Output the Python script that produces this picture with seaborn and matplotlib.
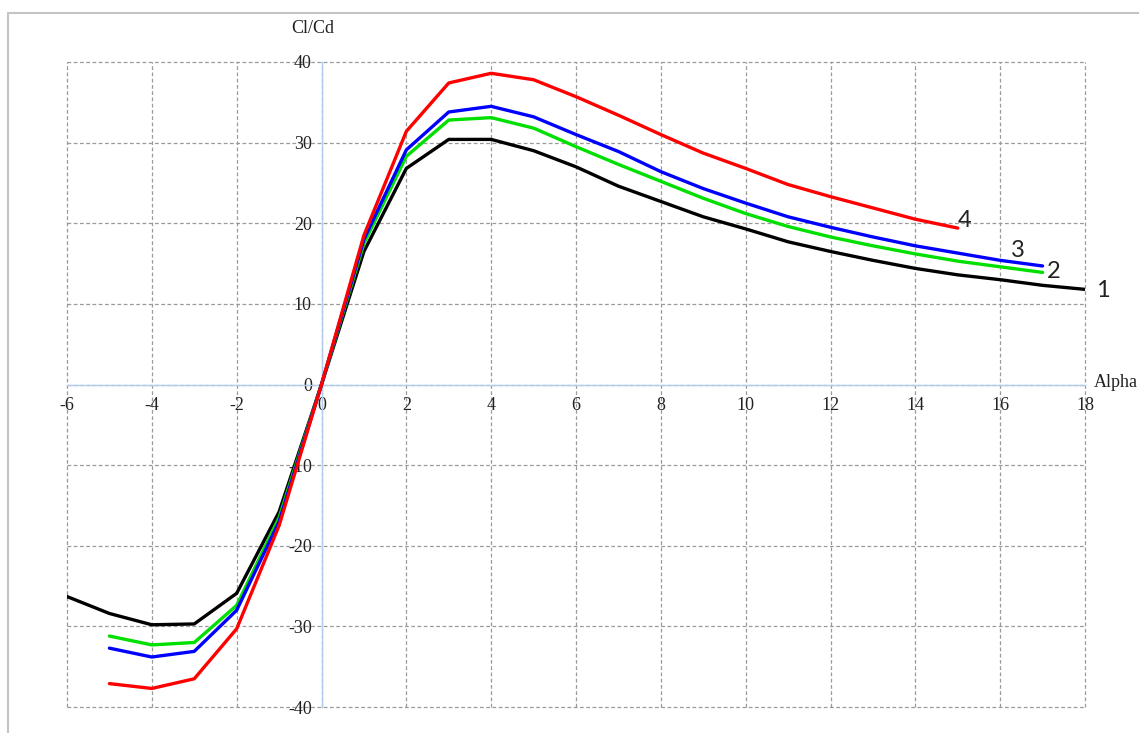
import numpy as np
import pandas as pd
import matplotlib
matplotlib.use("Agg")
import matplotlib.pyplot as plt
from matplotlib.patches import Rectangle
import seaborn as sns

# ---- data ----
alpha_1 = [-6, -5, -4, -3, -2, -1, 0, 1, 2, 3, 4, 5, 6, 7, 8, 9, 10, 11, 12, 13, 14, 15, 16, 17, 18]
clcd_1 = [-26.3, -28.4, -29.8, -29.7, -25.9, -15.8, 0, 16.5, 26.8, 30.4, 30.4, 29.0, 27.0, 24.6,
          22.7, 20.8, 19.3, 17.7, 16.5, 15.4, 14.4, 13.6, 13.0, 12.3, 11.8]
alpha_2 = [-5, -4, -3, -2, -1, 0, 1, 2, 3, 4, 5, 6, 7, 8, 9, 10, 11, 12, 13, 14, 15, 16, 17]
clcd_2 = [-31.2, -32.3, -32.0, -27.4, -16.5, 0, 17.5, 28.3, 32.8, 33.1, 31.8, 29.5, 27.3,
          25.2, 23.1, 21.2, 19.6, 18.3, 17.2, 16.2, 15.3, 14.6, 13.9]
alpha_3 = [-5, -4, -3, -2, -1, 0, 1, 2, 3, 4, 5, 6, 7, 8, 9, 10, 11, 12, 13, 14, 15, 16, 17]
clcd_3 = [-32.7, -33.8, -33.1, -28.0, -17.0, 0, 18.0, 29.1, 33.8, 34.5, 33.2, 31.0, 28.9,
          26.4, 24.3, 22.5, 20.8, 19.5, 18.3, 17.2, 16.3, 15.4, 14.7]
alpha_4 = [-5, -4, -3, -2, -1, 0, 1, 2, 3, 4, 5, 6, 7, 8, 9, 10, 11, 12, 13, 14, 15]
clcd_4 = [-37.1, -37.7, -36.5, -30.3, -17.5, 0, 18.5, 31.4, 37.4, 38.6, 37.8, 35.7, 33.4,
          31.0, 28.7, 26.8, 24.8, 23.3, 21.9, 20.5, 19.4]
series_names = ["1", "2", "3", "4"]
series_colors = ["#000000", "#00e000", "#0000ff", "#ff0000"]
x_ticks = [-6, -4, -2, 0, 2, 4, 6, 8, 10, 12, 14, 16, 18]
y_ticks = [-40, -30, -20, -10, 0, 10, 20, 30, 40]

frames = []
for name, xs, ys in zip(series_names, [alpha_1, alpha_2, alpha_3, alpha_4],
                        [clcd_1, clcd_2, clcd_3, clcd_4]):
    frames.append(pd.DataFrame({"Alpha": xs, "ClCd": ys, "curve": name}))
df = pd.concat(frames, ignore_index=True)

# ---- plot ----
sns.set_style("white")
plt.rcParams["axes.unicode_minus"] = False
W, H = 1139, 733
fig = plt.figure(figsize=(W / 100, H / 100), dpi=100)
ax = fig.add_axes([67 / W, 26 / H, (1085 - 67) / W, (707 - 62) / H])

sns.lineplot(data=df, x="Alpha", y="ClCd", hue="curve", hue_order=series_names,
             palette=dict(zip(series_names, series_colors)), linewidth=2.4,
             legend=False, ax=ax, zorder=3)

ax.set_xlim(-6, 18)
ax.set_ylim(-40, 40)
ax.set_xticks(x_ticks)
ax.set_yticks(y_ticks)
ax.set_xlabel("")
ax.set_ylabel("")

axis_blue = "#b0cdee"
for s in ["top", "right"]:
    ax.spines[s].set_visible(False)
ax.spines["left"].set_position(("data", 0))
ax.spines["bottom"].set_position(("data", 0))
ax.spines["left"].set_color(axis_blue)
ax.spines["bottom"].set_color(axis_blue)
ax.spines["left"].set_linewidth(1.0)
ax.spines["bottom"].set_linewidth(1.0)

ax.grid(True, color="#9a9a9a", linestyle=(0, (3, 2)), linewidth=0.9)
ax.set_axisbelow(True)
for gl in ax.get_xgridlines() + ax.get_ygridlines():
    gl.set_clip_on(False)

serif = ["Liberation Serif", "DejaVu Serif"]
ax.tick_params(axis="both", direction="out", length=5, color=axis_blue, width=1,
               labelsize=13, labelcolor="#222222")
ax.tick_params(axis="x", pad=4)
ax.tick_params(axis="y", pad=2)
for lab in ax.get_xticklabels() + ax.get_yticklabels():
    lab.set_fontfamily(serif)

# axis titles
ax.text(-0.2, 44.2, "Cl/Cd", fontsize=13, family=serif, color="#222222",
        ha="center", va="center", clip_on=False)
ax.text(18.2, 0.3, "Alpha", fontsize=13, family=serif, color="#222222",
        ha="left", va="center", clip_on=False)

# curve labels
label_pos = [(18.25, 11.6), (17.1, 14.0), (16.25, 16.6), (15.0, 20.4)]
for name, (lx, ly) in zip(series_names, label_pos):
    ax.text(lx, ly, name, fontsize=17, family=["Lato", "DejaVu Sans"], color="#222222",
            ha="left", va="center", clip_on=False)

# outer frame
fig.add_artist(Rectangle((8 / W, -0.05), 1.2, (H - 13) / H + 0.05,
                         transform=fig.transFigure, fill=False,
                         edgecolor="#c4c4c4", linewidth=1.5))

fig.savefig("out.png", dpi=100)
